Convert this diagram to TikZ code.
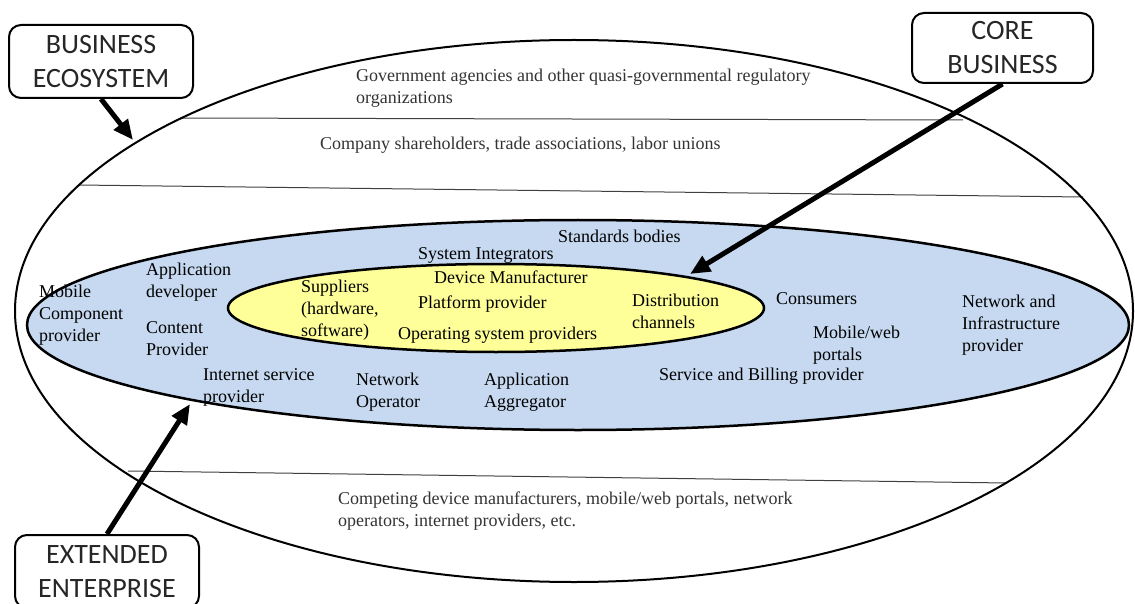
\documentclass[tikz,border=0pt]{standalone}
\usepackage{fontspec}
\setmainfont{Liberation Serif}
\newfontfamily\callfont{Carlito}
\usetikzlibrary{arrows.meta}
\definecolor{bluefill}{RGB}{198,217,240}
\definecolor{yellowfill}{RGB}{255,255,153}
\begin{document}
\begin{tikzpicture}[x=1pt,y=-1pt,
  lbl/.style={font=\fontsize{18}{22}\selectfont, align=left, anchor=west, inner sep=0pt},
  outertxt/.style={lbl, text=black!80},
  callout/.style={draw, line width=2pt, rounded corners=12pt, fill=white,
    font=\callfont\fontsize{28}{34}\selectfont, align=center,
    minimum width=184pt, minimum height=73pt, inner sep=0pt, text=black!85},
  pointer/.style={line width=5pt, -{Triangle[length=20pt,width=17pt]}},
  sepline/.style={draw=black!75, line width=1pt}]
\useasboundingbox (0,0) rectangle (1135,604);
% outer ecosystem
\draw[sepline] (180,118) -- (963,120);
\draw[sepline] (78,185) -- (1083,197);
\draw[sepline] (128,471) -- (1007,483);
\draw[line width=2pt] (574,311) ellipse [x radius=559, y radius=271];
% extended enterprise
\draw[line width=2.5pt, fill=bluefill] (578,325) ellipse [x radius=551, y radius=105];
% core business
\draw[line width=2.5pt, fill=yellowfill] (496,308) ellipse [x radius=268, y radius=44];
% outer texts
\node[outertxt] (gov) at (356,88) {Government agencies and other quasi-governmental regulatory\\organizations};
\node[outertxt] (share) at (320,145) {Company shareholders, trade associations, labor unions};
\node[outertxt] (compete) at (338,511) {Competing device manufacturers, mobile/web portals, network\\operators, internet providers, etc.};
% extended enterprise texts
\node[lbl] (std) at (558,236) {Standards bodies};
\node[lbl] (sysint) at (418,255) {System Integrators};
\node[lbl] (mobile) at (39,315) {Mobile\\Component\\provider};
\node[lbl] (appdev) at (146,282) {Application\\developer};
\node[lbl] (content) at (146,339) {Content\\Provider};
\node[lbl] (isp) at (203,387) {Internet service\\provider};
\node[lbl] (netop) at (356,392) {Network\\Operator};
\node[lbl] (appagg) at (484,392) {Application\\Aggregator};
\node[lbl] (cons) at (776,299) {Consumers};
\node[lbl] (portals) at (813,345) {Mobile/web\\portals};
\node[lbl] (billing) at (659,376) {Service and Billing provider};
\node[lbl] (infra) at (962,325) {Network and\\Infrastructure\\provider};
% core texts
\node[lbl] (devman) at (434,277) {Device Manufacturer};
\node[lbl] (plat) at (418,304) {Platform provider};
\node[lbl] (os) at (398,335) {Operating system providers};
\node[lbl] (supp) at (301,310) {Suppliers\\(hardware,\\software)};
\node[lbl] (dist) at (632,311) {Distribution\\channels};
% callouts
\node[callout] (bus) at (101,61.5) {BUSINESS\\ECOSYSTEM};
\node[callout, minimum width=181pt, minimum height=70pt] (core) at (1002.5,48) {CORE\\BUSINESS};
\node[callout] (ext) at (107,571.5) {EXTENDED\\ENTERPRISE};
\coordinate (busTip) at (133,140);
\coordinate (coreTip) at (690,274);
\coordinate (extTip) at (190,404);
\draw[pointer] (bus.south) -- (busTip);
\draw[pointer] (core.south) -- (coreTip);
\draw[pointer] (ext.north) -- (extTip);
\end{tikzpicture}
\end{document}
